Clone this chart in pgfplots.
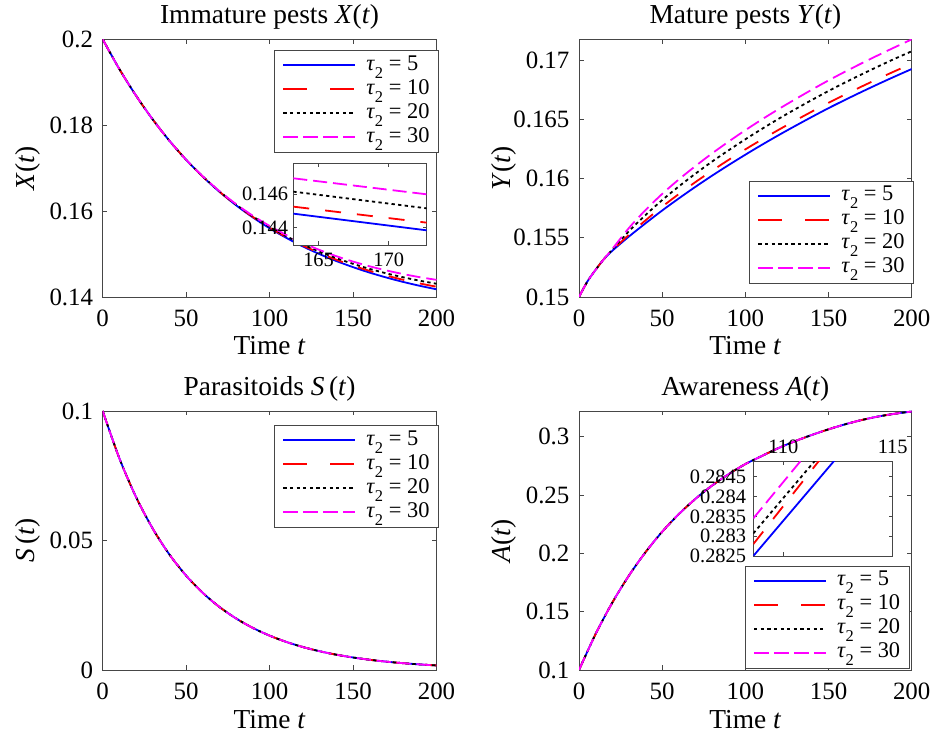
\documentclass[border=0pt]{standalone}
\usepackage{fontspec}
\setmainfont{Liberation Serif}
\usepackage{pgfplots}
\pgfplotsset{compat=1.18}

\newcommand{\tickfont}{\fontsize{25}{28}\selectfont}
\newcommand{\labfont}{\fontsize{27.5}{30}\selectfont}
\newcommand{\legfont}{\fontsize{22.5}{25}\selectfont}
\newcommand{\insfont}{\fontsize{20.5}{23}\selectfont}
\newcommand{\tsub}[1]{\raisebox{-0.35em}{\fontsize{16.5}{17}\selectfont #1}}
\newcommand{\tauent}[1]{\textit{τ}\tsub{2} = #1}

\definecolor{axgray}{RGB}{70,70,70}
\definecolor{mblue}{RGB}{0,0,255}
\definecolor{mred}{RGB}{255,0,0}
\definecolor{mmag}{RGB}{255,0,255}

\newcommand{\legline}[1]{\addlegendimage{legend image code/.code={\draw[#1] (0bp,0bp) -- (72bp,0bp);}}}
\newcommand{\fourlegend}{%
  \legline{draw=mblue, line width=1.8bp, solid}
  \addlegendentry{\tauent{5}}
  \legline{draw=mred, line width=1.8bp, dash pattern=on 24bp off 23bp}
  \addlegendentry{\tauent{10}}
  \legline{draw=black, line width=1.8bp, dash pattern=on 3.3bp off 3.3bp}
  \addlegendentry{\tauent{20}}
  \legline{draw=mmag, line width=1.8bp, dash pattern=on 15bp off 5bp}
  \addlegendentry{\tauent{30}}
}

\pgfplotsset{
  common/.style={
    scale only axis, anchor=south west,
    axis line style={draw=axgray, line width=0.6bp},
    every tick/.style={draw=axgray, line width=0.6bp},
    tick align=inside, xtick pos=both, ytick pos=both,
    scaled ticks=false,
  },
  panel/.style={
    common,
    xmin=0, xmax=200, xtick={0,50,100,150,200},
    xticklabels={0,50,100,150,200},
    major tick length=4.5bp,
    xticklabel pos=lower, yticklabel pos=left,
    xticklabel style={font=\tickfont, inner sep=0pt, anchor=base, yshift=-29.3bp},
    yticklabel style={font=\tickfont, inner sep=0pt, anchor=east, xshift=-9.4bp},
    title style={font=\labfont, at={(0.5,1)}, anchor=base, yshift=10bp},
    xlabel style={font=\labfont, at={(0.5,0)}, anchor=base, yshift=-58bp},
    ylabel style={font=\labfont, at={(-0.225,0.5)}, anchor=center},
    xlabel={Time \textit{t}},
    legend cell align=left,
    legend style={font=\legfont, draw=axgray, fill=white,
      anchor=north west, inner xsep=8bp, inner ysep=3bp, row sep=0bp, column sep=9bp,
      nodes={inner sep=1bp, text height=16bp, text depth=6bp}},
  },
  inset/.style={
    common,
    axis background/.style={fill=white},
    major tick length=3.5bp,
    xticklabel style={font=\insfont, inner sep=0pt, anchor=base},
    yticklabel style={font=\insfont, inner sep=0pt, anchor=east},
  },
  ln/.style={line width=1.8bp, line join=round},
}

\begin{document}
\begin{tikzpicture}

% ---------------- Top-left: X(t)
\begin{axis}[panel, at={(102.7bp,438bp)}, width=333.8bp, height=257.7bp,
  ymin=0.14, ymax=0.2, ytick={0.14,0.16,0.18,0.2}, yticklabels={0.14,0.16,0.18,0.2},
  title={Immature pests \textit{X}(\textit{t})}, ylabel={\textit{X}(\textit{t})},
  legend style={at={(0.514,0.958)}}]
\fourlegend
\addplot[ln, mblue, smooth, forget plot] coordinates {(0,0.2)(10,0.19306)(20,0.18686)(30,0.18132)(40,0.17637)(50,0.17195)(60,0.16801)(70,0.16448)(80,0.16133)(90,0.15852)(100,0.15601)(110,0.15377)(120,0.15176)(130,0.14997)(140,0.14837)(150,0.14695)(160,0.14567)(170,0.14453)(180,0.14351)(190,0.14260)(200,0.14179)};
\addplot[ln, mred, smooth, dash pattern=on 16bp off 16bp, forget plot] coordinates {(0,0.2)(10,0.19306)(20,0.18686)(30,0.18132)(40,0.17637)(50,0.17195)(60,0.16803)(70,0.16452)(80,0.16140)(90,0.15863)(100,0.15615)(110,0.15395)(120,0.15198)(130,0.15024)(140,0.14868)(150,0.14730)(160,0.14607)(170,0.14498)(180,0.14401)(190,0.14315)(200,0.14239)};
\addplot[ln, black, smooth, dash pattern=on 3.3bp off 3.3bp, forget plot] coordinates {(0,0.2)(10,0.19306)(20,0.18686)(30,0.18132)(40,0.17637)(50,0.17195)(60,0.16805)(70,0.16457)(80,0.16149)(90,0.15875)(100,0.15632)(110,0.15417)(120,0.15224)(130,0.15054)(140,0.14904)(150,0.14772)(160,0.14654)(170,0.14550)(180,0.14459)(190,0.14379)(200,0.14309)};
\addplot[ln, mmag, smooth, dash pattern=on 14bp off 6bp, forget plot] coordinates {(0,0.2)(10,0.19306)(20,0.18686)(30,0.18132)(40,0.17637)(50,0.17195)(60,0.16808)(70,0.16464)(80,0.16160)(90,0.15891)(100,0.15654)(110,0.15444)(120,0.15258)(130,0.15094)(140,0.14950)(150,0.14825)(160,0.14714)(170,0.14618)(180,0.14534)(190,0.14461)(200,0.14399)};
\end{axis}

% inset of X(t)
\begin{axis}[inset, at={(293.3bp,490bp)}, width=133.4bp, height=81.7bp,
  xmin=163.2, xmax=172.7, ymin=0.14296, ymax=0.14786,
  xtick={165,170}, xticklabels={165,170}, ytick={0.144,0.146}, yticklabels={0.144,0.146},
  xticklabel pos=lower, yticklabel pos=left,
  xticklabel style={yshift=-21.7bp}, yticklabel style={xshift=-5bp}]
\addplot[ln, mblue] coordinates {(163.2,0.14484)(172.7,0.14384)};
\addplot[ln, mred, dash pattern=on 16bp off 16bp] coordinates {(163.2,0.14526)(172.7,0.14430)};
\addplot[ln, black, dash pattern=on 3.3bp off 3.3bp] coordinates {(163.2,0.14616)(172.7,0.14516)};
\addplot[ln, mmag, dash pattern=on 14bp off 6bp] coordinates {(163.2,0.14696)(172.7,0.14600)};
\end{axis}

% ---------------- Top-right: Y(t)
\begin{axis}[panel, at={(579bp,438bp)}, width=332.7bp, height=257.7bp,
  ymin=0.15, ymax=0.17175, ytick={0.15,0.155,0.16,0.165,0.17}, yticklabels={0.15,0.155,0.16,0.165,0.17},
  title={Mature pests \textit{Y}(\textit{t})}, ylabel={\textit{Y}(\textit{t})},
  legend style={at={(0.512,0.451)}}]
\fourlegend
\addplot[ln, mblue, smooth, forget plot] coordinates {(0,0.1500)(5,0.1513)(10,0.1523)(15,0.1532)(20,0.1539)(30,0.1551)(40,0.15622)(50,0.1573)(60,0.15832)(70,0.1593)(80,0.16024)(90,0.16114)(100,0.16201)(110,0.16285)(120,0.16366)(130,0.16444)(140,0.1652)(150,0.16594)(160,0.16664)(170,0.16732)(180,0.16798)(190,0.16862)(200,0.16924)};
\addplot[ln, mred, smooth, dash pattern=on 16bp off 16bp, forget plot] coordinates {(0,0.1500)(5,0.1513)(10,0.1523)(15,0.1532)(20,0.15393)(30,0.15525)(40,0.15647)(50,0.15762)(60,0.15869)(70,0.1597)(80,0.16066)(90,0.16158)(100,0.16246)(110,0.1633)(120,0.16411)(130,0.16489)(140,0.16565)(150,0.16639)(160,0.16709)(170,0.16777)(180,0.16843)(190,0.16907)(200,0.16969)};
\addplot[ln, black, smooth, dash pattern=on 3.3bp off 3.3bp, forget plot] coordinates {(0,0.1500)(5,0.1513)(10,0.1523)(15,0.1532)(20,0.1540)(30,0.15555)(40,0.15692)(50,0.15818)(60,0.15933)(70,0.16041)(80,0.16143)(90,0.16239)(100,0.16331)(110,0.16419)(120,0.16504)(130,0.16585)(140,0.16663)(150,0.16739)(160,0.16811)(170,0.1688)(180,0.16947)(190,0.17012)(200,0.17074)};
\addplot[ln, mmag, smooth, dash pattern=on 14bp off 6bp, forget plot] coordinates {(0,0.1500)(5,0.1513)(10,0.1523)(15,0.1532)(20,0.15405)(30,0.15582)(40,0.15734)(50,0.1587)(60,0.15992)(70,0.16105)(80,0.16212)(90,0.16312)(100,0.16408)(110,0.16499)(120,0.16586)(130,0.16669)(140,0.1675)(150,0.16828)(160,0.16902)(170,0.16973)(180,0.17042)(190,0.17109)(200,0.17174)};
\end{axis}

% ---------------- Bottom-left: S(t)
\begin{axis}[panel, at={(102.7bp,65bp)}, width=333.8bp, height=259bp,
  ymin=0, ymax=0.1, ytick={0,0.05,0.1}, yticklabels={0,0.05,0.1},
  title={Parasitoids \textit{S}\,(\textit{t})}, ylabel={\textit{S}\,(\textit{t})},
  legend style={at={(0.514,0.946)}}]
\fourlegend
\addplot[ln, mblue, smooth, forget plot] coordinates {(0,0.1)(10,0.08171)(20,0.06676)(30,0.05455)(40,0.04457)(50,0.03642)(60,0.02976)(70,0.02431)(80,0.01987)(90,0.01623)(100,0.01327)(110,0.01084)(120,0.00886)(130,0.00724)(140,0.00591)(150,0.00483)(160,0.00395)(170,0.00322)(180,0.00263)(190,0.00215)(200,0.00176)};
\addplot[ln, mred, smooth, dash pattern=on 16bp off 16bp, forget plot] coordinates {(0,0.1)(10,0.08171)(20,0.06676)(30,0.05455)(40,0.04457)(50,0.03642)(60,0.02976)(70,0.02431)(80,0.01987)(90,0.01623)(100,0.01327)(110,0.01084)(120,0.00886)(130,0.00724)(140,0.00591)(150,0.00483)(160,0.00395)(170,0.00322)(180,0.00263)(190,0.00215)(200,0.00176)};
\addplot[ln, black, smooth, dash pattern=on 3.3bp off 3.3bp, forget plot] coordinates {(0,0.1)(10,0.08171)(20,0.06676)(30,0.05455)(40,0.04457)(50,0.03642)(60,0.02976)(70,0.02431)(80,0.01987)(90,0.01623)(100,0.01327)(110,0.01084)(120,0.00886)(130,0.00724)(140,0.00591)(150,0.00483)(160,0.00395)(170,0.00322)(180,0.00263)(190,0.00215)(200,0.00176)};
\addplot[ln, mmag, smooth, dash pattern=on 14bp off 6bp, forget plot] coordinates {(0,0.1)(10,0.08171)(20,0.06676)(30,0.05455)(40,0.04457)(50,0.03642)(60,0.02976)(70,0.02431)(80,0.01987)(90,0.01623)(100,0.01327)(110,0.01084)(120,0.00886)(130,0.00724)(140,0.00591)(150,0.00483)(160,0.00395)(170,0.00322)(180,0.00263)(190,0.00215)(200,0.00176)};
\end{axis}

% ---------------- Bottom-right: A(t)
\begin{axis}[panel, at={(579bp,65bp)}, width=332.7bp, height=259bp,
  ymin=0.1, ymax=0.322, ytick={0.1,0.15,0.2,0.25,0.3}, yticklabels={0.1,0.15,0.2,0.25,0.3},
  title={Awareness \textit{A}(\textit{t})}, ylabel={\textit{A}(\textit{t})},
  legend style={at={(0.499,0.403)}}]
\fourlegend
\addplot[ln, mblue, smooth, forget plot] coordinates {(0,0.1)(10,0.1309)(20,0.1577)(30,0.1809)(40,0.2010)(50,0.2185)(60,0.2336)(70,0.2467)(80,0.2581)(90,0.2679)(100,0.2765)(110,0.2835)(120,0.2903)(130,0.2962)(140,0.3015)(150,0.3063)(160,0.3106)(170,0.3143)(180,0.3173)(190,0.3197)(200,0.3215)};
\addplot[ln, mred, smooth, dash pattern=on 16bp off 16bp, forget plot] coordinates {(0,0.1)(10,0.1309)(20,0.1577)(30,0.1809)(40,0.2010)(50,0.2185)(60,0.2336)(70,0.2467)(80,0.2581)(90,0.2679)(100,0.2765)(110,0.2835)(120,0.2903)(130,0.2962)(140,0.3015)(150,0.3063)(160,0.3106)(170,0.3143)(180,0.3173)(190,0.3197)(200,0.3215)};
\addplot[ln, black, smooth, dash pattern=on 3.3bp off 3.3bp, forget plot] coordinates {(0,0.1)(10,0.1309)(20,0.1577)(30,0.1809)(40,0.2010)(50,0.2185)(60,0.2336)(70,0.2467)(80,0.2581)(90,0.2679)(100,0.2765)(110,0.2835)(120,0.2903)(130,0.2962)(140,0.3015)(150,0.3063)(160,0.3106)(170,0.3143)(180,0.3173)(190,0.3197)(200,0.3215)};
\addplot[ln, mmag, smooth, dash pattern=on 14bp off 6bp, forget plot] coordinates {(0,0.1)(10,0.1309)(20,0.1577)(30,0.1809)(40,0.2010)(50,0.2185)(60,0.2336)(70,0.2467)(80,0.2581)(90,0.2679)(100,0.2765)(110,0.2835)(120,0.2903)(130,0.2962)(140,0.3015)(150,0.3063)(160,0.3106)(170,0.3143)(180,0.3173)(190,0.3197)(200,0.3215)};
\end{axis}

% inset of A(t)
\begin{axis}[inset, at={(753.3bp,179bp)}, width=139.4bp, height=94.3bp,
  xmin=108.63, xmax=115, ymin=0.2825, ymax=0.28488,
  xtick={110,115}, xticklabels={110,115},
  ytick={0.2825,0.283,0.2835,0.284,0.2845}, yticklabels={0.2825,0.283,0.2835,0.284,0.2845},
  xticklabel pos=upper, yticklabel pos=left,
  xticklabel style={yshift=8.4bp}, yticklabel style={xshift=-7bp}]
\addplot[ln, mblue] coordinates {(108.6,0.28248)(112.4,0.28495)};
\addplot[ln, mred, dash pattern=on 16bp off 16bp] coordinates {(108.63,0.28280)(111.7,0.28495)};
\addplot[ln, black, dash pattern=on 3.3bp off 3.3bp] coordinates {(108.63,0.28307)(111.5,0.28494)};
\addplot[ln, mmag, dash pattern=on 14bp off 6bp] coordinates {(108.63,0.28345)(110.9,0.28497)};
\end{axis}

\pgfresetboundingbox
\useasboundingbox (0,0) rectangle (933bp,735bp);
\end{tikzpicture}
\end{document}
